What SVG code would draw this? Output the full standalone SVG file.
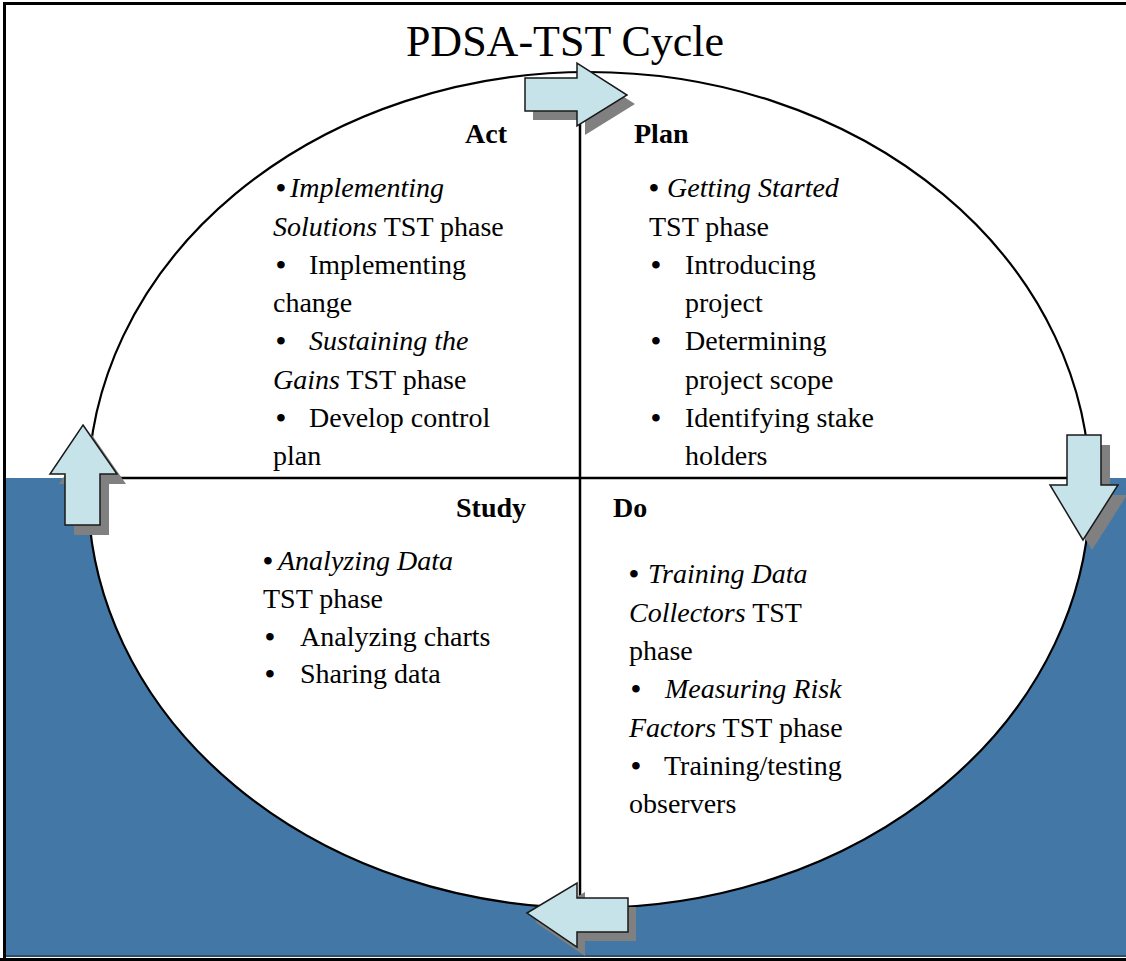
<svg xmlns="http://www.w3.org/2000/svg" width="1126" height="961" viewBox="0 0 1126 961">
  <style>
    .title { font-family: "Liberation Serif", "Times New Roman", serif; font-size: 44px; fill: #000; }
    .head { font-family: "Liberation Serif", "Times New Roman", serif; font-size: 28px; font-weight: bold; fill: #000; }
    .body { font-family: "Liberation Serif", "Times New Roman", serif; font-size: 28px; fill: #000; }
    .b { font-weight: bold; }
    .it { font-style: italic; font-weight: normal; }
    .up { font-weight: normal; }
    .arrow { fill: #c6e3ea; stroke: #1a1a1a; stroke-width: 1.5; stroke-linejoin: miter; }
    .shadow { fill: #808080; }
    .divider { stroke: #000; stroke-width: 2.5; fill: none; }
  </style>

  <!-- background -->
  <rect x="0" y="0" width="1126" height="961" fill="#ffffff"/>
  <rect x="4" y="478" width="1122" height="478" fill="#4378a6"/>
  <rect x="4" y="955" width="1122" height="2" fill="#2e4e6a"/>
  <rect x="0" y="958" width="1126" height="3" fill="#000"/>
  <!-- frame -->
  <rect x="3" y="2" width="3" height="957" fill="#000"/>
  <rect x="3" y="2" width="1123" height="3" fill="#000"/>

  <!-- cycle ellipse and quadrant dividers -->
  <g id="cycle">
    <ellipse cx="589" cy="490" rx="501" ry="418" fill="#ffffff" stroke="#000" stroke-width="2.2"/>
    <line class="divider" x1="89" y1="478" x2="1088" y2="478"/>
    <line class="divider" x1="580" y1="72" x2="580" y2="908"/>
  </g>

  <text class="title" x="565" y="56" text-anchor="middle">PDSA-TST Cycle</text>

  <!-- connectors: block arrows between quadrants -->
  <g id="connectors">
    <!-- Act -> Plan (top, pointing right) -->
    <polygon class="shadow" points="533,87 585,87 585,72 635,104 585,135 585,120 533,120"/>
    <polygon class="arrow" points="525,78 577,78 577,63 627,95 577,126 577,111 525,111"/>
    <!-- Plan -> Do (right, pointing down) -->
    <polygon class="shadow" points="1076,445 1110,445 1110,495 1127,495 1092,550 1059,495 1076,495"/>
    <polygon class="arrow" points="1067,435 1101,435 1101,485 1118,485 1083,540 1050,485 1067,485"/>
    <!-- Do -> Study (bottom, pointing left) -->
    <polygon class="shadow" points="535,922 585,892 585,907 636,907 636,941 585,941 585,956"/>
    <polygon class="arrow" points="527,913 577,883 577,898 628,898 628,932 577,932 577,947"/>
    <!-- Study -> Act (left, pointing up) -->
    <polygon class="shadow" points="92,435 126,484 109,484 109,535 74,535 74,484 59,484"/>
    <polygon class="arrow" points="83,425 117,474 100,474 100,525 65,525 65,474 50,474"/>
  </g>

  <!-- Act quadrant -->
  <g id="act">
    <text class="head" x="465" y="143">Act</text>
    <text class="body b" x="276" y="197">•<tspan class="it" x="290">Implementing</tspan></text>
    <text class="body" x="273" y="236"><tspan class="it">Solutions</tspan> TST phase</text>
    <text class="body b" x="276" y="274">•<tspan class="up" x="309">Implementing</tspan></text>
    <text class="body" x="273" y="312">change</text>
    <text class="body b" x="276" y="350">•<tspan class="it" x="309">Sustaining the</tspan></text>
    <text class="body" x="273" y="389"><tspan class="it">Gains</tspan> TST phase</text>
    <text class="body b" x="276" y="427">•<tspan class="up" x="309">Develop control</tspan></text>
    <text class="body" x="273" y="465">plan</text>
  </g>

  <!-- Plan quadrant -->
  <g id="plan">
    <text class="head" x="634" y="143">Plan</text>
    <text class="body b" x="649" y="197">•<tspan class="it" x="667">Getting Started</tspan></text>
    <text class="body" x="649" y="236">TST phase</text>
    <text class="body b" x="651" y="274">•<tspan class="up" x="685">Introducing</tspan></text>
    <text class="body" x="685" y="312">project</text>
    <text class="body b" x="651" y="350">•<tspan class="up" x="685">Determining</tspan></text>
    <text class="body" x="685" y="389">project scope</text>
    <text class="body b" x="651" y="427">•<tspan class="up" x="685">Identifying stake</tspan></text>
    <text class="body" x="685" y="465">holders</text>
  </g>

  <!-- Study quadrant -->
  <g id="study">
    <text class="head" x="456" y="517">Study</text>
    <text class="body b" x="263" y="570">•<tspan class="it" x="278">Analyzing Data</tspan></text>
    <text class="body" x="263" y="608">TST phase</text>
    <text class="body b" x="265" y="646">•<tspan class="up" x="300">Analyzing charts</tspan></text>
    <text class="body b" x="265" y="683">•<tspan class="up" x="300">Sharing data</tspan></text>
  </g>

  <!-- Do quadrant -->
  <g id="do">
    <text class="head" x="613" y="517">Do</text>
    <text class="body b" x="629" y="583">•<tspan class="it" x="648">Training Data</tspan></text>
    <text class="body" x="629" y="622"><tspan class="it">Collectors</tspan> TST</text>
    <text class="body" x="629" y="660">phase</text>
    <text class="body b" x="631" y="698">•<tspan class="it" x="665">Measuring Risk</tspan></text>
    <text class="body" x="629" y="737"><tspan class="it">Factors</tspan> TST phase</text>
    <text class="body b" x="631" y="775">•<tspan class="up" x="664">Training/testing</tspan></text>
    <text class="body" x="629" y="813">observers</text>
  </g>
</svg>
